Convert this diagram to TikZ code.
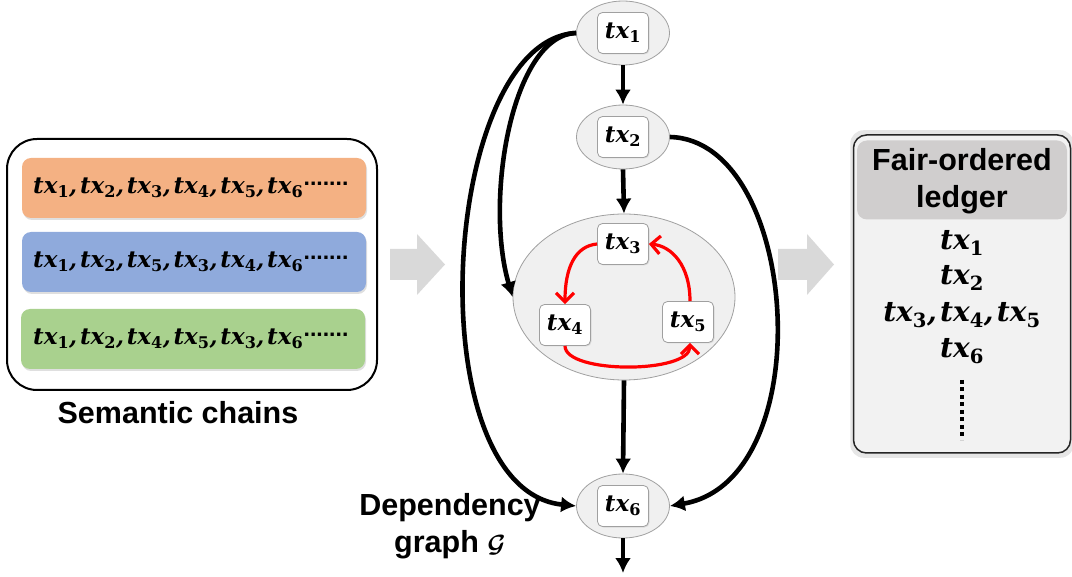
\documentclass[tikz,border=0pt]{standalone}
\usepackage{amsmath}
\usepackage{fontspec}
\setmainfont{Liberation Sans}
\setsansfont{Liberation Sans}
\newfontfamily\txfont{DejaVu Serif}
\usetikzlibrary{shapes.geometric,arrows.meta,shadows}

\definecolor{chainorange}{HTML}{F4B183}
\definecolor{chainblue}{HTML}{8FAADC}
\definecolor{chaingreen}{HTML}{A9D18E}
\definecolor{ellfill}{HTML}{F0F0F0}
\definecolor{ellline}{HTML}{A0A0A0}
\definecolor{ledgerfill}{HTML}{F2F2F2}
\definecolor{ledgerhead}{HTML}{D0CECE}
\definecolor{flowgray}{HTML}{D9D9D9}
\definecolor{cycred}{HTML}{FF0000}

% bold italic transaction symbol with upright bold index
\newcommand{\tx}[1]{{\txfont\bfseries\itshape tx}\textsubscript{\txfont\bfseries #1}}
\newcommand{\txs}{{\txfont\bfseries\itshape ,}\hspace{0.12em}}

\tikzset{
  lbltext/.style={font=\fontsize{30.5}{37}\selectfont\sffamily\bfseries, align=center, inner sep=0pt},
  chainbar/.style={rectangle, rounded corners=9pt, minimum width=344pt, minimum height=60pt,
    drop shadow={shadow xshift=1pt, shadow yshift=-2pt, opacity=0.25}},
  chaintext/.style={anchor=west, inner sep=0pt, font=\fontsize{23}{26}\selectfont},
  trailtext/.style={anchor=base west, inner sep=0pt, font=\fontsize{23}{23}\selectfont\sffamily\bfseries},
  txell/.style={ellipse, draw=ellline, line width=0.8pt, fill=ellfill, minimum width=93pt, minimum height=64pt, inner sep=0pt},
  txbox/.style={rectangle, draw=ellline, line width=0.8pt, fill=white, rounded corners=5pt,
    minimum width=51pt, minimum height=41pt, inner sep=0pt, font=\fontsize{23}{26}\selectfont,
    drop shadow={shadow xshift=1pt, shadow yshift=-1pt, opacity=0.2}},
  dep/.style={line width=4.6pt, -{Latex[length=15pt,width=16pt]}},
  cyc/.style={line width=3.2pt, cycred, -{Straight Barb[length=9pt,width=18pt]}},
  flowarrow/.style={fill=flowgray, draw=none},
  ledgeritem/.style={inner sep=0pt, font=\fontsize{28}{30}\selectfont}
}

\begin{document}
\begin{tikzpicture}[x=1pt, y=-1pt]
\useasboundingbox (0,0) rectangle (1072,577);

% ---- semantic chains ----
\node[draw=black, line width=2pt, rounded corners=30pt, minimum width=370pt, minimum height=251pt] (chains) at (192,264.5) {};
\node[chainbar, fill=chainorange] (c1) at (194,188) {};
\node[chainbar, fill=chainblue]   (c2) at (194,262) {};
\node[chainbar, fill=chaingreen]  (c3) at (193,339) {};
\node[chaintext] (t1) at (33,188) {\tx1\txs\tx2\txs\tx3\txs\tx4\txs\tx5\txs\tx6};
\node[chaintext] (t2) at (33,262) {\tx1\txs\tx2\txs\tx5\txs\tx3\txs\tx4\txs\tx6};
\node[chaintext] (t3) at (33,339) {\tx1\txs\tx2\txs\tx4\txs\tx5\txs\tx3\txs\tx6};
\node[trailtext] (d1) at ([yshift=8pt]t1.base east) {.......};
\node[trailtext] (d2) at ([yshift=8pt]t2.base east) {.......};
\node[trailtext] (d3) at ([yshift=8pt]t3.base east) {.......};
\node[lbltext] (chainlbl) at (178,413) {Semantic chains};

% ---- flow arrows ----
\fill[flowarrow] (390,249) -- (417,249) -- (417,234) -- (445,264.5) -- (417,295) -- (417,280) -- (390,280) -- cycle;
\fill[flowarrow] (778,249) -- (807,249) -- (807,234) -- (834,264.5) -- (807,295) -- (807,280) -- (778,280) -- cycle;

% ---- dependency graph ----
\node[txell] (e1) at (623,33) {};
\node[txbox] (n1) at (623,33) {\tx1};
\node[txell] (e2) at (623,137) {};
\node[txbox] (n2) at (623,137) {\tx2};
\node[ellipse, draw=ellline, line width=0.8pt, fill=ellfill, minimum width=222pt, minimum height=166pt] (big) at (624,297) {};
\node[txbox] (n3) at (623,244) {\tx3};
\node[txbox] (n4) at (565,325) {\tx4};
\node[txbox] (n5) at (688,322) {\tx5};
\node[txell] (e6) at (623,506) {};
\node[txbox] (n6) at (623,506) {\tx6};
\coordinate (out) at (623,573);

\draw[dep] (e1.south) -- (e2.north);
\draw[dep] (e2.south) -- (big.north);
\draw[dep] (big.south) -- (e6.north);
\draw[dep] (e6.south) -- (out);
\draw[dep] (e1.west) .. controls (512,35) and (484,200) .. (big.west);
\draw[dep] (e1.west) .. controls (440,40) and (415,490) .. (e6.west);
\draw[dep] (e2.east) .. controls (800,140) and (822,480) .. (e6.east);

\draw[cyc] (n3.west) .. controls (575,246) and (565,268) .. (n4.north);
\draw[cyc] (n4.south) .. controls (565,374) and (690,374) .. ([xshift=2pt]n5.south);
\draw[cyc] ([xshift=2pt]n5.north) .. controls (690,266) and (672,246) .. (n3.east);

\node[lbltext] (deplbl) at (450,526) {Dependency\\graph $\boldsymbol{\mathcal{G}}$};

% ---- ledger ----
\node[draw=black!85, line width=1.5pt, fill=ledgerfill, rounded corners=13pt, minimum width=217pt, minimum height=318pt,
  drop shadow={shadow xshift=0pt, shadow yshift=0pt, opacity=0.2, shadow scale=1.03}] (ledger) at (962,294) {};
\node[fill=ledgerhead, rounded corners=10pt, minimum width=210pt, minimum height=79pt] (ledhead) at (962,180) {};
\node[lbltext] (ledlbl) at (962,181) {Fair-ordered\\ledger};
\node[ledgeritem] (l1) at (962,243) {\tx1};
\node[ledgeritem] (l2) at (962,278) {\tx2};
\node[ledgeritem] (l3) at (962,315) {\tx3\txs\tx4\txs\tx5};
\node[ledgeritem] (l6) at (962,351) {\tx6};
\coordinate (dtop) at (962,380);
\coordinate (dbot) at (962,440);
\draw[line width=4pt, dash pattern=on 4pt off 3.5pt] (dtop) -- (dbot);
\end{tikzpicture}
\end{document}
